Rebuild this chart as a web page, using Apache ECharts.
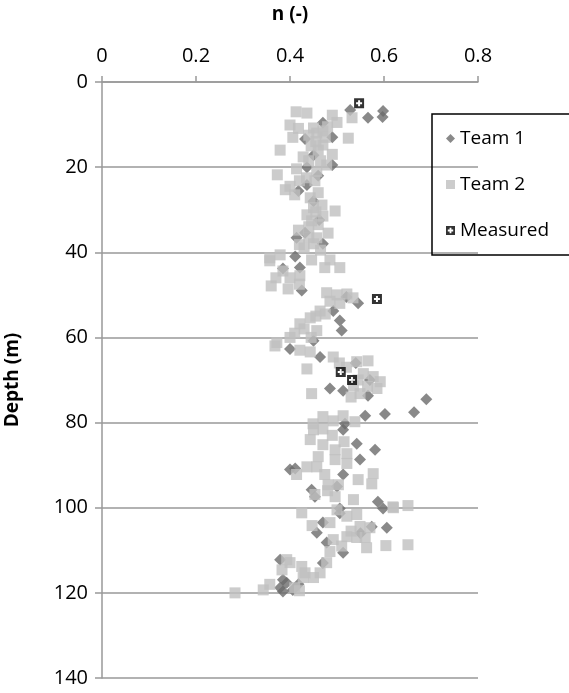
<!DOCTYPE html>
<html>
<head>
<meta charset="UTF-8">
<title>n vs depth</title>
<script src="https://cdn.jsdelivr.net/npm/echarts@6/dist/echarts.min.js"></script>
<style>
  html, body { margin: 0; padding: 0; background: #fff; }
  #main { width: 569px; height: 693px; }
</style>
</head>
<body>
<div id="main"></div>
<script>
// [n, depth] pairs
var team1 = [
  [0.528, 6.6], [0.566, 8.4], [0.598, 6.8], [0.597, 8.2], [0.49, 13], [0.432, 13.4], [0.45, 17.2],
  [0.47, 9.6], [0.436, 20], [0.49, 19.5], [0.46, 22],
  [0.418, 25.6], [0.436, 24.2], [0.462, 32.4], [0.414, 36.6], [0.411, 41], [0.432, 35.4], [0.45, 28], [0.47, 38],
  [0.385, 43.8], [0.421, 43.6], [0.425, 49], [0.545, 52], [0.492, 53.8], [0.506, 56], [0.51, 58.4], [0.45, 60.8], [0.52, 50.5],
  [0.40, 62.7], [0.464, 64.6], [0.485, 72], [0.513, 72.5], [0.56, 78.4], [0.602, 78], [0.566, 73.7], [0.517, 80.3],
  [0.664, 77.6], [0.69, 74.5], [0.54, 66], [0.57, 70],
  [0.40, 91], [0.411, 90.8], [0.513, 81.7], [0.542, 85], [0.549, 88.7], [0.581, 86.4], [0.446, 95.8], [0.453, 97.4],
  [0.513, 92.2], [0.587, 98.6], [0.598, 100.2], [0.506, 100.2], [0.5, 95],
  [0.606, 104.7], [0.457, 105.9], [0.47, 103.5], [0.506, 101.3], [0.478, 108.2], [0.513, 110.6], [0.574, 104.5], [0.55, 106],
  [0.379, 112.2], [0.385, 116.9], [0.379, 118.8], [0.393, 117.6], [0.406, 119.3], [0.385, 119.7], [0.418, 118], [0.47, 113]
];

var team2 = [
  [0.413, 7.0], [0.436, 7.3], [0.49, 7.8], [0.532, 8.4], [0.40, 10.1], [0.418, 10.9], [0.45, 10.8], [0.457, 12],
  [0.406, 13], [0.524, 13.2], [0.47, 14.8], [0.379, 16], [0.428, 17.6], [0.49, 17], [0.478, 19.5], [0.414, 20.4],
  [0.457, 21], [0.373, 21.8], [0.47, 11.5], [0.44, 12.5], [0.46, 16], [0.445, 15], [0.5, 9.5], [0.48, 10.5],
  [0.465, 18.5], [0.435, 22.5], [0.455, 14], [0.475, 13], [0.44, 18.5],
  [0.42, 23.2], [0.453, 23.2], [0.39, 25.3], [0.443, 27.2], [0.468, 28.9], [0.496, 30.3], [0.436, 31.2], [0.446, 32.6],
  [0.418, 34.8], [0.481, 35.5], [0.457, 36.6], [0.42, 38.2], [0.379, 40.6], [0.357, 41.3], [0.446, 41.8], [0.485, 41.8],
  [0.40, 24.5], [0.46, 26], [0.45, 29.5], [0.47, 31.5], [0.44, 34], [0.46, 33.5], [0.44, 36.5], [0.43, 39],
  [0.465, 39.5], [0.41, 26.5], [0.455, 30.5], [0.45, 38],
  [0.357, 42], [0.385, 44.4], [0.421, 45.5], [0.36, 47.9], [0.396, 48.6], [0.474, 43.6], [0.506, 43.6], [0.478, 49.5],
  [0.521, 49.8], [0.506, 52], [0.464, 53.8], [0.443, 55.4], [0.421, 56.8], [0.457, 58.4], [0.40, 60], [0.372, 61.2],
  [0.534, 50.7], [0.40, 46], [0.42, 47.5], [0.37, 46], [0.5, 50], [0.485, 51.5], [0.475, 54.5], [0.455, 55],
  [0.43, 58], [0.41, 59], [0.445, 60],
  [0.368, 62], [0.421, 63], [0.443, 63.4], [0.436, 67.4], [0.446, 73.2], [0.492, 64.6], [0.542, 65.7], [0.566, 65.5],
  [0.556, 68.5], [0.577, 69.2], [0.592, 70.4], [0.549, 73.2], [0.535, 71.4], [0.47, 78.6], [0.492, 79.6], [0.513, 78.4],
  [0.538, 79.8], [0.449, 80.3], [0.52, 67], [0.545, 70], [0.565, 71.5], [0.585, 72], [0.53, 74], [0.505, 66],
  [0.45, 81.7], [0.47, 81.5], [0.443, 84], [0.47, 85.2], [0.496, 86.4], [0.496, 88.7], [0.521, 87.3], [0.521, 89.6],
  [0.436, 90.4], [0.414, 92.2], [0.457, 90.4], [0.474, 92.2], [0.481, 94.6], [0.503, 94.6], [0.453, 96.9], [0.496, 97.4],
  [0.545, 93.4], [0.577, 92], [0.574, 94.4], [0.535, 98.1], [0.619, 99.8], [0.49, 83], [0.515, 84.5], [0.46, 88], [0.48, 96],
  [0.62, 100], [0.651, 99.5], [0.425, 101.2], [0.447, 104.2], [0.485, 103.5], [0.521, 102], [0.542, 101.6], [0.549, 104.4],
  [0.57, 104.7], [0.521, 106.8], [0.542, 107], [0.56, 107], [0.563, 109.4], [0.604, 108.9], [0.651, 108.7], [0.492, 107.5],
  [0.485, 110.3], [0.478, 112.9], [0.464, 115.3], [0.45, 116.4], [0.40, 112.9], [0.425, 113.8], [0.383, 114.6], [0.428, 116.4],
  [0.41, 118.8], [0.357, 118], [0.343, 119.3], [0.283, 120], [0.432, 115.3], [0.393, 112.2], [0.5, 100.5], [0.53, 105.5],
  [0.51, 109], [0.42, 119.5]
];

var measured = [[0.547, 5], [0.585, 51], [0.508, 68.1], [0.532, 70]];

var xTicks = [0, 0.2, 0.4, 0.6, 0.8];
var yTicks = [0, 20, 40, 60, 80, 100, 120, 140];

// black square with a plus cut out (opposite winding)
var plusBox = 'path://M0 0L10 0L10 10L0 10Z M4 2L4 4L2 4L2 6L4 6L4 8L6 8L6 6L8 6L8 4L6 4L6 2Z';

var font = 'Open Sans';
var chart = echarts.init(document.getElementById('main'), null, { renderer: 'canvas' });

chart.setOption({
  animation: false,
  backgroundColor: '#fff',
  grid: { left: 102, top: 82, right: 91, bottom: 15, outerBoundsMode: 'none', containLabel: false },
  legend: {
    orient: 'vertical',
    left: 432,
    top: 114,
    padding: [15, 22, 15, 14],
    itemGap: 27,
    itemWidth: 9,
    itemHeight: 9,
    borderColor: '#000',
    borderWidth: 1.5,
    textStyle: { fontFamily: font, fontSize: 19, color: '#000' },
    data: [
      { name: 'Team 1', icon: 'diamond' },
      { name: 'Team 2', icon: 'rect' },
      { name: 'Measured', icon: plusBox }
    ]
  },
  xAxis: {
    type: 'value',
    position: 'top',
    min: xTicks[0],
    max: xTicks[xTicks.length - 1],
    interval: 0.2,
    name: 'n (-)',
    nameLocation: 'middle',
    nameGap: 58,
    nameTextStyle: { fontFamily: font, fontSize: 19, fontWeight: 'bold', color: '#000' },
    axisLine: { show: true, lineStyle: { color: '#999', width: 1.5 } },
    axisTick: { show: true, inside: false, length: 6, lineStyle: { color: '#999', width: 1.5 } },
    axisLabel: { margin: 16, fontFamily: font, fontSize: 20, color: '#000',
      formatter: function (v) { return String(+v.toFixed(1)); } },
    splitLine: { show: false }
  },
  yAxis: {
    type: 'value',
    inverse: true,
    min: yTicks[0],
    max: yTicks[yTicks.length - 1],
    interval: 20,
    name: 'Depth (m)',
    nameLocation: 'middle',
    nameGap: 80,
    nameRotate: 90,
    nameTextStyle: { fontFamily: font, fontSize: 19, fontWeight: 'bold', color: '#000' },
    axisLine: { show: true, lineStyle: { color: '#999', width: 1.5 } },
    axisTick: { show: true, inside: false, length: 7, lineStyle: { color: '#999', width: 1.5 } },
    axisLabel: { margin: 14, fontFamily: font, fontSize: 20, color: '#000' },
    splitLine: { show: true, lineStyle: { color: '#999', width: 1.5 } }
  },
  series: [
    {
      name: 'Team 1',
      type: 'scatter',
      symbol: 'diamond',
      symbolSize: 12,
      itemStyle: { color: '#6b6b6b' },
      data: team1
    },
    {
      name: 'Team 2',
      type: 'scatter',
      symbol: 'rect',
      symbolSize: 11,
      itemStyle: { color: '#bfbfbf' },
      data: team2
    },
    {
      name: 'Measured',
      type: 'scatter',
      symbol: plusBox,
      symbolSize: 10,
      itemStyle: { color: '#000' },
      data: measured
    }
  ]
});
</script>
</body>
</html>
